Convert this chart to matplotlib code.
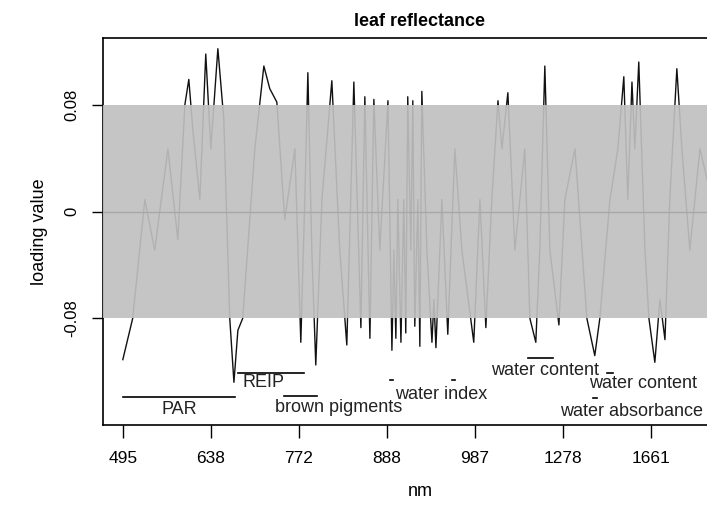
import matplotlib
matplotlib.use("Agg")
import matplotlib.pyplot as plt

plt.rcParams["font.family"] = ["Liberation Sans", "DejaVu Sans"]

# band index (x) and loading value of the first component
band = [0, 4.5, 10, 14.5, 20.5, 25, 28.2, 30, 31.8, 35, 37.7, 40, 43.2, 45.9,
        48.6, 50.5, 52.3, 54.5, 60, 64.1, 66.8, 70, 73.6, 78.2, 80.9, 82.7,
        84.1, 85.9, 87.7, 90.5, 95, 98.6, 101.8, 105, 108.2, 110, 112.3, 114.1,
        116.8, 120.5, 122.3, 123.2, 124.1, 125, 126.4, 127.7, 128.6, 129.5,
        130.9, 131.8, 132.7, 134.1, 135, 135.9, 138.2, 140.5, 141.4, 142.3,
        145, 147.7, 150.9, 154.1, 159.5, 162.3, 165, 167.7, 170.5, 172.3, 175,
        178.2, 182.7, 185, 187.7, 189.5, 191.8, 194.1, 198.2, 200.9, 205.5,
        210.9, 214.5, 216.8, 221.4, 225, 227.7, 229.5, 231.4, 232.7, 234.5,
        237.3, 239.1, 241.8, 244.1, 246.4, 248.6, 251.8, 254.1, 257.7, 262.3,
        267.7, 270]
loading = [-0.111, -0.080, 0.009, -0.029, 0.047, -0.021, 0.080, 0.099, 0.062,
           0.009, 0.118, 0.047, 0.122, 0.069, -0.080, -0.128, -0.089, -0.080,
           0.047, 0.109, 0.092, 0.082, -0.006, 0.047, -0.098, 0.009, 0.104,
           -0.029, -0.115, 0.009, 0.098, -0.029, -0.100, 0.097, -0.087, 0.086,
           -0.095, 0.084, -0.029, 0.083, -0.104, -0.029, -0.095, 0.009, -0.098,
           0.009, -0.091, 0.086, -0.029, 0.083, -0.086, 0.009, -0.101, 0.090,
           -0.029, -0.098, -0.066, -0.102, 0.009, -0.092, 0.047, -0.029, -0.098,
           0.009, -0.087, 0.009, 0.083, 0.047, 0.089, -0.029, 0.047, -0.080,
           -0.098, -0.029, 0.109, -0.029, -0.085, 0.009, 0.047, -0.080, -0.108,
           -0.080, 0.009, 0.047, 0.101, 0.009, 0.097, 0.047, 0.112, -0.029,
           -0.080, -0.113, -0.066, -0.096, 0.009, 0.107, 0.047, -0.029, 0.047,
           0.009, 0.062]

tick_pos = [0, 40, 80, 120, 160, 200, 240]
tick_nm = ["495", "638", "772", "888", "987", "1278", "1661"]
threshold = 0.08

# spectral regions: (label, segments, segment y, label x, label y)
regions = [
    ("PAR", [(0, 50.9)], -0.139, 25.5, -0.148),
    ("REIP", [(52.3, 82.3)], -0.121, 64.1, -0.128),
    ("brown pigments", [(73.2, 88.2)], -0.138, 98.2, -0.147),
    ("water index", [(121.4, 122.7), (149.5, 150.9)], -0.126, 144.5, -0.137),
    ("water content", [(184.1, 195.5)], -0.110, 191.8, -0.119),
    ("water content", [(220.0, 222.7)], -0.121, 236.4, -0.129),
    ("water absorbance", [(213.6, 215.5)], -0.140, 231.4, -0.150),
]

fig = plt.figure(figsize=(7.07, 5.07), dpi=100)
ax = fig.add_axes([0.1457, 0.1617, 0.8963, 0.7633])

ax.plot(band, loading, color="#111111", linewidth=1.0, zorder=2)
ax.axhspan(-threshold, threshold, facecolor="#c0c0c0", alpha=0.92,
           edgecolor="none", zorder=3)
ax.axhline(0, color="#a8a8a8", linewidth=1.0, zorder=4)

for label, segs, sy, lx, ly in regions:
    for x0, x1 in segs:
        ax.plot([x0, x1], [sy, sy], color="black", linewidth=1.2, zorder=5)
    ax.text(lx, ly, label, ha="center", va="center", fontsize=13,
            color="#222222", zorder=6)

ax.set_xlim(-9, 279)
ax.set_ylim(-0.16, 0.13)
ax.set_xticks(tick_pos)
ax.set_xticklabels(tick_nm)
ax.set_yticks([-threshold, 0, threshold])
ax.set_yticklabels(["-0.08", "0", "0.08"], rotation=90, va="center")
ax.tick_params(axis="x", length=9, width=1, pad=10, labelsize=12.5)
ax.tick_params(axis="y", length=8, width=1, pad=9, labelsize=12)
for side in ax.spines.values():
    side.set_linewidth(1.2)

ax.set_title("leaf reflectance", fontsize=13, fontweight="bold", pad=9)
ax.set_xlabel("nm", fontsize=13, labelpad=12)
ax.set_ylabel("loading value", fontsize=13, labelpad=12)

fig.savefig("out.png", dpi=100)
